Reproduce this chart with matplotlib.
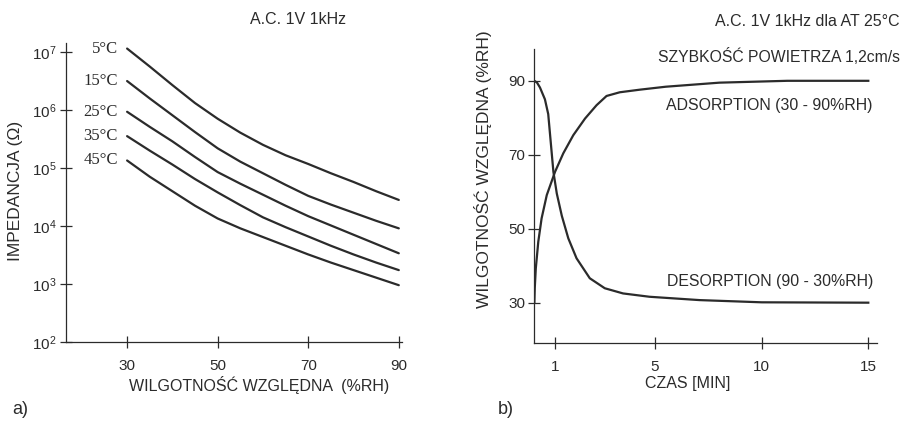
import numpy as np
import matplotlib
matplotlib.use("Agg")
import matplotlib.pyplot as plt
from matplotlib.ticker import FixedLocator, NullLocator

plt.rcParams["font.family"] = ["Liberation Sans", "DejaVu Sans"]
plt.rcParams["mathtext.fontset"] = "custom"
plt.rcParams["mathtext.rm"] = "Liberation Sans"

INK = "#2b2b2b"

# --- panel a): impedance vs relative humidity, per temperature ---
RH = [30, 35, 40, 45, 50, 55, 60, 65, 70, 75, 80, 85, 90]
TEMPS = ["5°C", "15°C", "25°C", "35°C", "45°C"]
# log10 of impedance in ohms
LOG_IMP_5 = [7.06, 6.75, 6.43, 6.12, 5.85, 5.61, 5.40, 5.22, 5.07, 4.91, 4.76, 4.60, 4.45]
LOG_IMP_15 = [6.50, 6.20, 5.91, 5.62, 5.34, 5.11, 4.91, 4.71, 4.52, 4.37, 4.23, 4.09, 3.96]
LOG_IMP_25 = [5.97, 5.71, 5.46, 5.19, 4.93, 4.73, 4.54, 4.35, 4.17, 4.01, 3.85, 3.69, 3.53]
LOG_IMP_35 = [5.55, 5.30, 5.06, 4.81, 4.58, 4.36, 4.15, 3.98, 3.82, 3.66, 3.51, 3.37, 3.24]
LOG_IMP_45 = [5.13, 4.85, 4.60, 4.35, 4.13, 3.96, 3.81, 3.66, 3.51, 3.37, 3.24, 3.11, 2.98]
RH_TICKS = [30, 50, 70, 90]
IMP_TICKS = [1e2, 1e3, 1e4, 1e5, 1e6, 1e7]

# --- panel b): response time, adsorption / desorption ---
T_DES = [0.0, 0.13, 0.27, 0.51, 0.67, 0.79, 0.92, 1.07, 1.27, 1.53, 1.86, 2.39,
         2.99, 3.72, 4.78, 7.08, 10.0, 15.0]
RH_DES = [90, 89.5, 88.2, 85.0, 81.0, 73.5, 65.4, 59.5, 53.5, 47.4, 42.0, 36.6,
          33.9, 32.5, 31.6, 30.7, 30.1, 30.0]
T_ADS = [0.0, 0.02, 0.07, 0.19, 0.35, 0.60, 1.0, 1.33, 1.73, 2.20, 2.66, 3.06,
         3.59, 4.39, 5.5, 8.02, 11.2, 15.0]
RH_ADS = [30, 34, 39.3, 46.5, 52.8, 59.1, 65.4, 70.4, 75.3, 79.8, 83.4, 85.9,
          86.9, 87.6, 88.4, 89.5, 90.0, 90.0]
T_TICKS = [1, 5, 10, 15]
RHB_TICKS = [30, 50, 70, 90]

# the time axis in the original is hand-spaced (1..5 wider than 5..15)
T_KNOTS = [0, 1, 5, 10, 15, 16]
D_KNOTS = [0, 20.7, 120.7, 227.4, 334.0, 355.3]


def t_fwd(x):
    return np.interp(x, T_KNOTS, D_KNOTS)


def t_inv(d):
    return np.interp(d, D_KNOTS, T_KNOTS)


def style(ax):
    for s in ("top", "right"):
        ax.spines[s].set_visible(False)
    for s in ("left", "bottom"):
        ax.spines[s].set_color(INK)
        ax.spines[s].set_linewidth(0.9)
    ax.tick_params(direction="inout", length=9, width=0.9, color=INK,
                   labelcolor=INK, labelsize=11)
    ax.yaxis.set_minor_locator(NullLocator())
    ax.xaxis.set_minor_locator(NullLocator())


fig = plt.figure(figsize=(9.15, 4.21), dpi=100)

# panel a
ax1 = fig.add_axes([0.0721, 0.1876, 0.3672, 0.7102])
style(ax1)
for lab, logs in zip(TEMPS, [LOG_IMP_5, LOG_IMP_15, LOG_IMP_25, LOG_IMP_35, LOG_IMP_45]):
    vals = np.power(10.0, logs)
    ax1.plot(RH, vals, color=INK, lw=1.6, solid_capstyle="round")
    ax1.text(RH[0] - 2.0, vals[0], lab, ha="right", va="center",
             fontsize=12, color=INK, family=["Liberation Serif"])
ax1.set_yscale("log")
ax1.set_xlim(16.5, 90.7)
ax1.set_ylim(1e2, 1.43e7)
ax1.xaxis.set_major_locator(FixedLocator(RH_TICKS))
ax1.yaxis.set_major_locator(FixedLocator(IMP_TICKS))
ax1.yaxis.set_minor_locator(NullLocator())
ax1.tick_params(axis="x", pad=8)
ax1.tick_params(axis="y", pad=2)
ax1.set_xlabel("WILGOTNOŚĆ WZGLĘDNA  (%RH)", fontsize=11.5, color=INK)
ax1.xaxis.set_label_coords(0.574, -0.112)
ax1.set_ylabel("IMPEDANCJA (Ω)", fontsize=12.5, color=INK)
ax1.yaxis.set_label_coords(-0.128, 0.505)
fig.text(298 / 915, 1 - 19 / 421, "A.C. 1V 1kHz", ha="center", va="center",
         fontsize=11.5, color=INK)
fig.text(12 / 915, 1 - 410 / 421, "a)", ha="left", va="center", fontsize=13, color=INK)

# panel b
ax2 = fig.add_axes([0.584, 0.1853, 0.3745, 0.6983])
style(ax2)
ax2.set_xscale("function", functions=(t_fwd, t_inv))
ax2.plot(T_DES, RH_DES, color=INK, lw=1.6)
ax2.plot(T_ADS, RH_ADS, color=INK, lw=1.6)
ax2.set_xlim(0, 15.41)
ax2.set_ylim(19.1, 98.6)
ax2.xaxis.set_major_locator(FixedLocator(T_TICKS))
ax2.yaxis.set_major_locator(FixedLocator(RHB_TICKS))
ax2.xaxis.set_minor_locator(NullLocator())
ax2.tick_params(axis="x", pad=8)
ax2.tick_params(axis="y", pad=2)
ax2.set_xlabel("CZAS [MIN]", fontsize=11.5, color=INK)
ax2.xaxis.set_label_coords(0.446, -0.112)
ax2.set_ylabel("WILGOTNOŚĆ WZGLĘDNA (%RH)", fontsize=12.5, color=INK)
ax2.yaxis.set_label_coords(-0.123, 0.592)
ax2.text(15.22, 83.2, "ADSORPTION (30 - 90%RH)", ha="right", va="center",
         fontsize=11.4, color=INK)
ax2.text(15.22, 35.6, "DESORPTION (90 - 30%RH)", ha="right", va="center",
         fontsize=11.4, color=INK)
fig.text(900 / 915, 1 - 22 / 421, "A.C. 1V 1kHz dla AT 25°C", ha="right", va="center",
         fontsize=11.5, color=INK)
fig.text(900 / 915, 1 - 57 / 421, "SZYBKOŚĆ POWIETRZA 1,2cm/s", ha="right", va="center",
         fontsize=11.3, color=INK)
fig.text(498 / 915, 1 - 409 / 421, "b)", ha="left", va="center", fontsize=13, color=INK)

fig.savefig("out.png", dpi=100)
